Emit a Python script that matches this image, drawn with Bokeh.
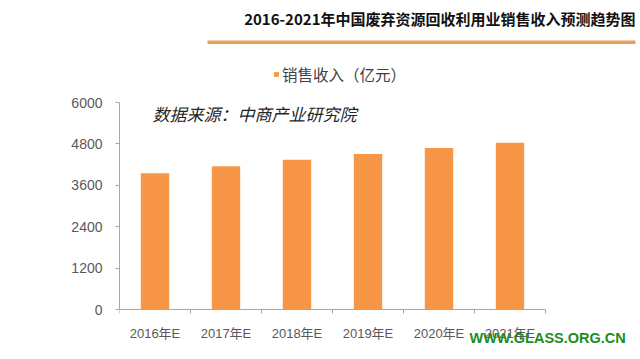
from bokeh.plotting import figure
from bokeh.models import (ColumnDataSource, Range1d, FixedTicker,
                          Label, Legend, LegendItem, BoxAnnotation)
from bokeh.embed import file_html
from bokeh.resources import INLINE

# ---- data ----
years = ["2016年E", "2017年E", "2018年E", "2019年E", "2020年E", "2021年E"]
sales = [3950, 4150, 4340, 4510, 4680, 4830]
y_ticks = [0, 1200, 2400, 3600, 4800, 6000]

title_text = "2016-2021年中国废弃资源回收利用业销售收入预测趋势图"
legend_text = "销售收入（亿元）"
source_text = "数据来源：中商产业研究院"
watermark_text = "WWW.GLASS.ORG.CN"

BAR = "#F79646"
GREY = "#595959"
AXIS = "#A6A6A6"
CJK = "Noto Sans CJK SC"
LAT = "Liberation Sans, Noto Sans CJK SC"

idx = list(range(len(years)))
src = ColumnDataSource(data=dict(x=idx, year=years, sales=sales))

# frame spans the whole canvas right of the y axis; the data area is
# limited with axis bounds so the heading/legend/notes sit inside the frame
W, H = 640, 359
LEFT = 119
CAT_PX = 71.0
Y0_PX, Y6000_PX = 309, 102
ppu = (Y0_PX - Y6000_PX) / 6000.0
x_end = -0.5 + (W - LEFT) / CAT_PX
y_end = 6000 + Y6000_PX / ppu
y_start = -(H - Y0_PX) / ppu

p = figure(x_range=Range1d(-0.5, x_end), y_range=Range1d(y_start, y_end),
           width=W, height=H,
           min_border_left=LEFT, min_border_right=0,
           min_border_top=0, min_border_bottom=0,
           output_backend="svg", toolbar_location=None,
           background_fill_color="white", border_fill_color="white")
p.outline_line_color = None
p.xgrid.grid_line_color = None
p.ygrid.grid_line_color = None

bars = p.vbar(x="x", top="sales", width=0.4, source=src,
              fill_color=BAR, line_color=None)

# y axis
ya = p.yaxis[0]
ya.ticker = FixedTicker(ticks=y_ticks)
ya.bounds = (0, 6000)
ya.axis_line_color = AXIS
ya.major_tick_line_color = AXIS
ya.major_tick_out = 4
ya.major_tick_in = 0
ya.minor_tick_line_color = None
ya.major_label_standoff = 13
ya.major_label_text_font = LAT
ya.major_label_text_font_size = "14px"
ya.major_label_text_color = GREY

# x axis (category labels at centres, small ticks at category boundaries)
xa = p.xaxis[0]
xa.fixed_location = 0
xa.bounds = (-0.5, len(years) - 0.5)
xa.ticker = FixedTicker(ticks=idx, minor_ticks=[i - 0.5 for i in range(len(years) + 1)])
xa.major_label_overrides = {i: y for i, y in zip(idx, years)}
xa.axis_line_color = AXIS
xa.major_tick_line_color = None
xa.major_tick_out = 0
xa.major_tick_in = 0
xa.minor_tick_line_color = AXIS
xa.minor_tick_out = 4
xa.minor_tick_in = 0
xa.major_label_standoff = 12
xa.major_label_text_font = LAT
xa.major_label_text_font_size = "13px"
xa.major_label_text_color = GREY

# legend
legend = Legend(items=[LegendItem(label=legend_text, renderers=[bars])],
                location=(154, 274), orientation="horizontal",
                glyph_width=6, glyph_height=6, label_height=6, label_standoff=3,
                padding=0, margin=0, border_line_color=None,
                background_fill_alpha=0,
                label_text_font=CJK, label_text_font_size="15.5px",
                label_text_color="#404040")
p.add_layout(legend, "center")

# heading and rule
p.add_layout(Label(x=516, y=341, x_units="screen", y_units="screen",
                   text=title_text, text_align="right", text_baseline="middle",
                   text_font=CJK, text_font_size="15px", text_font_style="bold",
                   text_color="#111111"))
p.add_layout(BoxAnnotation(left=88, right=516, bottom=315.5, top=319,
                           left_units="screen", right_units="screen",
                           bottom_units="screen", top_units="screen",
                           fill_color="#E99F58", fill_alpha=1, line_color=None))

# source note
p.add_layout(Label(x=33, y=246, x_units="screen", y_units="screen",
                   text=source_text, text_align="left", text_baseline="middle",
                   text_font=CJK, text_font_size="17px", text_font_style="italic",
                   text_color="#262626"))

# watermark
p.add_layout(Label(x=350, y=22, x_units="screen", y_units="screen",
                   text=watermark_text, text_align="left", text_baseline="middle",
                   text_font="Liberation Sans", text_font_size="14.5px",
                   text_font_style="bold", text_color="#1E8C1E"))

open("out.html", "w").write(file_html(p, INLINE))
